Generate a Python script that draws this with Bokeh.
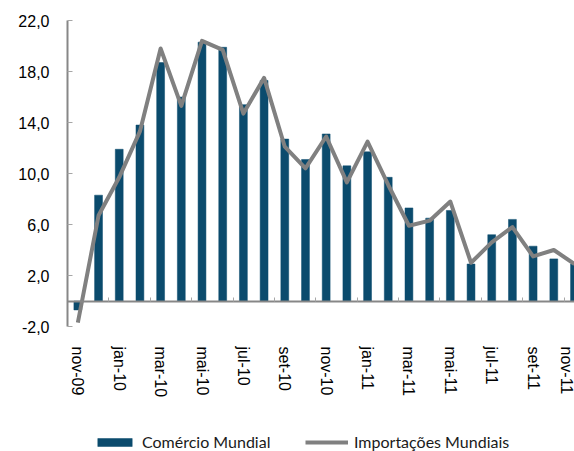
from bokeh.plotting import figure
from bokeh.models import (Range1d, FixedTicker, LinearAxis, Legend, LegendItem,
                          ColumnDataSource)
from bokeh.embed import file_html
from bokeh.resources import INLINE

months = ["nov-09", "dez-09", "jan-10", "fev-10", "mar-10", "abr-10", "mai-10",
          "jun-10", "jul-10", "ago-10", "set-10", "out-10", "nov-10", "dez-10",
          "jan-11", "fev-11", "mar-11", "abr-11", "mai-11", "jun-11", "jul-11",
          "ago-11", "set-11", "out-11", "nov-11"]
comercio = [-0.7, 8.3, 11.9, 13.8, 18.7, 16.0, 20.3, 19.9, 15.4, 17.3, 12.7, 11.1,
            13.1, 10.6, 11.7, 9.7, 7.3, 6.5, 7.1, 2.9, 5.2, 6.4, 4.3, 3.3, 2.9]
importacoes = [-1.7, 6.7, 9.7, 13.3, 19.8, 15.3, 20.4, 19.7, 14.7, 17.5, 12.1, 10.4,
               12.9, 9.3, 12.5, 9.1, 5.9, 6.3, 7.8, 3.0, 4.6, 5.8, 3.5, 4.0, 2.9]
y_ticks = [-2, 2, 6, 10, 14, 18, 22]

idx = list(range(len(months)))
src = ColumnDataSource(dict(x=idx, com=comercio, imp=importacoes))

# the frame reaches down to the page bottom so that the legend sits inside it;
# the value scale keeps 306 px for the -2..22 band
Y_MIN, Y_MAX = -2, 22
px_per_unit = 306 / (Y_MAX - Y_MIN)
y_low = Y_MIN - 125 / px_per_unit

p = figure(frame_width=507, frame_height=431, output_backend="svg",
           toolbar_location=None,
           x_range=Range1d(-0.5, 24.0), y_range=Range1d(y_low, Y_MAX),
           min_border_left=67, min_border_right=0, min_border_top=20,
           min_border_bottom=0, x_axis_location=None, y_axis_location=None)
p.outline_line_color = None
p.xgrid.visible = False
p.ygrid.visible = False

bars = p.vbar(x="x", top="com", width=0.38, source=src, fill_color="#0B4B6D",
              line_color="#0B4B6D", line_width=0.5)
line = p.line(x="x", y="imp", source=src, line_color="#808080", line_width=4,
              line_join="round")

# y axis, drawn only over the -2..22 band
yax = LinearAxis(ticker=FixedTicker(ticks=y_ticks, minor_ticks=[]),
                 bounds=(Y_MIN, Y_MAX))
yax.major_label_overrides = {t: f"{t:.1f}".replace(".", ",") for t in y_ticks}
yax.axis_line_color = "#878787"
yax.axis_line_width = 2
yax.major_tick_in = 5
yax.major_tick_out = 0
yax.minor_tick_out = 0
yax.major_tick_line_color = "#A6A6A6"
yax.minor_tick_line_color = None
yax.major_label_standoff = 18
yax.major_label_text_font = "Liberation Sans"
yax.major_label_text_font_size = "16px"
yax.major_label_text_color = "#000000"
p.add_layout(yax, "left")

# x labels, hung below the -2 line
xt = list(range(0, len(months), 2))
xax = LinearAxis(ticker=FixedTicker(ticks=xt, minor_ticks=[]), fixed_location=Y_MIN)
xax.major_label_overrides = {i: months[i] for i in xt}
xax.major_label_orientation = "vertical"
xax.axis_line_color = None
xax.major_tick_line_color = None
xax.minor_tick_line_color = None
xax.major_tick_out = 0
xax.major_tick_in = 0
xax.minor_tick_out = 0
xax.minor_tick_in = 0
xax.major_label_standoff = 20
xax.major_label_text_font = "Liberation Sans"
xax.major_label_text_font_size = "16px"
xax.major_label_text_color = "#000000"
p.add_layout(xax, "below")

# zero line axis with category-boundary tick marks
zt = [i + 1.5 for i in range(-2, len(months) - 1, 2)]
zax = LinearAxis(ticker=FixedTicker(ticks=[], minor_ticks=zt), fixed_location=0)
zax.axis_line_color = "#878787"
zax.axis_line_width = 2
zax.major_tick_line_color = None
zax.major_tick_out = 0
zax.major_tick_in = 0
zax.minor_tick_out = 4
zax.minor_tick_in = 0
zax.minor_tick_line_color = "#A6A6A6"
zax.major_label_standoff = 0
zax.major_label_text_font_size = "0px"
p.add_layout(zax, "above")

legend = Legend(items=[LegendItem(label="Comércio Mundial", renderers=[bars]),
                       LegendItem(label="Importações Mundiais", renderers=[line])],
                location=(26, 0), orientation="horizontal",
                glyph_width=43, glyph_height=10, label_height=18,
                label_width=163, label_standoff=6, spacing=0,
                padding=0, margin=0, border_line_color=None,
                background_fill_alpha=0,
                label_text_font="Lato", label_text_font_size="16px",
                label_text_color="#1a1a1a")
p.add_layout(legend)

open("out.html", "w").write(file_html(p, INLINE))
